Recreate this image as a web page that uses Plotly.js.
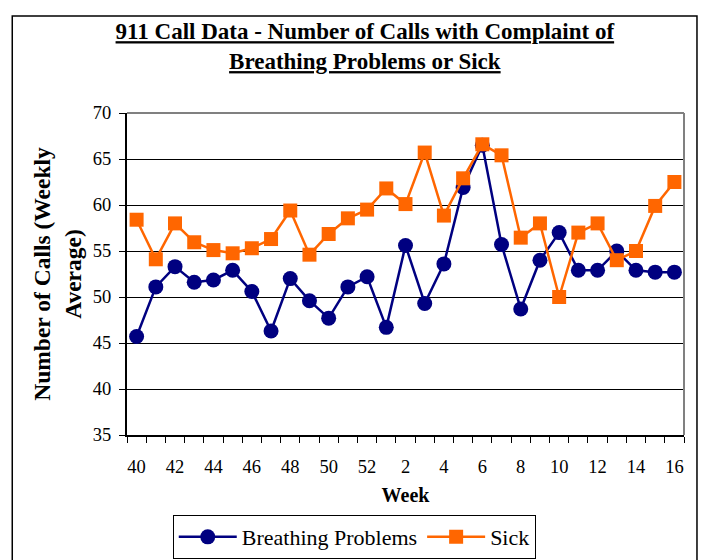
<!DOCTYPE html>
<html>
<head>
<meta charset="utf-8">
<script src="https://cdn.plot.ly/plotly-3.0.1.min.js"></script>
<style>html,body{margin:0;padding:0;background:#fff;}#chart{width:714px;height:560px;}</style>
</head>
<body>
<div id="chart"></div>
<script>
const weeks = [40,41,42,43,44,45,46,47,48,49,50,51,52,1,2,3,4,5,6,7,8,9,10,11,12,13,14,15,16];
const breathing = [45.7,51.1,53.3,51.6,51.85,52.9,50.6,46.3,52.0,49.6,47.7,51.1,52.2,46.7,55.6,49.3,53.6,61.9,66.5,55.7,48.7,54.0,57.0,52.9,52.9,55.0,52.9,52.7,52.7];
const sick = [58.4,54.1,58.0,55.95,55.1,54.75,55.3,56.3,59.4,54.6,56.85,58.55,59.5,61.8,60.1,65.7,58.85,62.9,66.6,65.4,56.45,58.0,50.0,57.0,58.0,54.0,55.0,59.9,62.5];
const yTicks = [35,40,45,50,55,60,65,70];

const idx = weeks.map((w,i)=>i);
const labelIdx = idx.filter(i=>i%2===0);
const labelText = labelIdx.map(i=>String(weeks[i]));
const boundaries = idx.map(i=>i-0.5).concat([weeks.length-0.5]);

const serif = "Liberation Serif, Times New Roman, serif";

const traces = [
  {x: idx, y: breathing, name: 'Breathing Problems', type: 'scatter', mode: 'lines+markers',
   line: {color: '#000080', width: 2.5}, marker: {symbol: 'circle', size: 15, color: '#000080'}},
  {x: idx, y: sick, name: 'Sick', type: 'scatter', mode: 'lines+markers',
   line: {color: '#FF6600', width: 2.5}, marker: {symbol: 'square', size: 14, color: '#FF6600'}}
];

const layout = {
  width: 714, height: 560,
  margin: {l: 127, r: 30, t: 113, b: 125, autoexpand: false},
  paper_bgcolor: '#fff', plot_bgcolor: '#fff',
  showlegend: true,
  font: {family: serif, color: '#000'},
  title: {text: '<b><u>911 Call Data - Number of Calls with Complaint of</u></b><br><b><u>Breathing Problems or Sick</u></b>',
          font: {family: serif, size: 23, color: '#000'}, x: 0.511, xanchor: 'center', y: 0.93, yref: 'container', yanchor: 'middle'},
  xaxis: {
    automargin: false,
    range: [-0.5, weeks.length-0.5], tickmode: 'array', tickvals: labelIdx, ticktext: labelText,
    ticks: '', showgrid: false, zeroline: false, showline: true, linecolor: '#000', linewidth: 2,
    tickfont: {family: serif, size: 18.5, color: '#000'}, ticklabelstandoff: 14,
    minor: {tickmode: 'array', tickvals: boundaries, ticks: 'outside', ticklen: 6, tickcolor: '#000', tickwidth: 1, showgrid: false},
    title: {text: '<b>Week</b>', font: {family: serif, size: 20, color: '#000'}, standoff: 12}
  },
  yaxis: {
    automargin: false,
    range: [35, 70], tickmode: 'array', tickvals: yTicks, ticks: 'outside', ticklen: 6, tickcolor: '#000',
    showgrid: true, gridcolor: '#000', gridwidth: 1, zeroline: false, showline: true, linecolor: '#000', linewidth: 2,
    tickfont: {family: serif, size: 18.5, color: '#000'}, ticklabelstandoff: 4,
    title: {text: '<b>Number of Calls (Weekly<br>Average)</b>', font: {family: serif, size: 23.5, color: '#000'}, standoff: 5}
  },
  legend: {orientation: 'h', x: 0.408, xanchor: 'center', y: -0.317, yanchor: 'middle', itemwidth: 58,
    bordercolor: '#000', borderwidth: 1, bgcolor: '#fff', font: {family: serif, size: 22, color: '#000'}},
  shapes: [
    {type: 'line', xref: 'paper', yref: 'paper', x0: 0, x1: 1, y0: 1, y1: 1, line: {color: '#808080', width: 2}},
    {type: 'line', xref: 'paper', yref: 'paper', x0: 1, x1: 1, y0: 0, y1: 1, line: {color: '#808080', width: 2}},
    {type: 'rect', xref: 'paper', yref: 'paper', x0: -0.206, x1: 1.0233, y0: -0.41, y1: 1.3012, line: {color: '#000', width: 1.5}, fillcolor: 'rgba(0,0,0,0)'}
  ]
};

Plotly.newPlot('chart', traces, layout, {displayModeBar: false, staticPlot: true});
</script>
</body>
</html>
